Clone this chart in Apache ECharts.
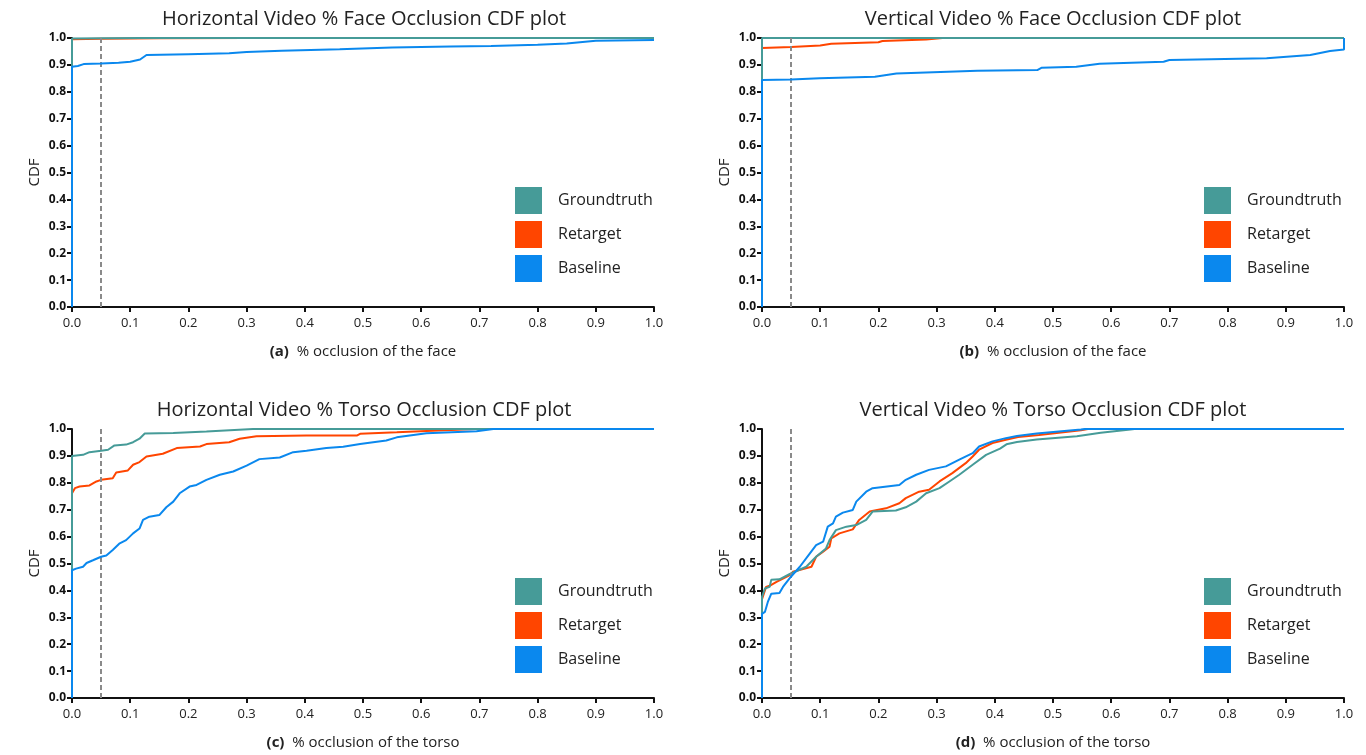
<!DOCTYPE html>
<html>
<head>
<meta charset="utf-8">
<script src="https://cdn.jsdelivr.net/npm/echarts@6/dist/echarts.min.js"></script>
<style>html,body{margin:0;padding:0;background:#fff;}#c{width:1366px;height:755px;}</style>
</head>
<body>
<div id="c"></div>
<script>
// ---- data ----
const seriesNames = ['Groundtruth', 'Retarget', 'Baseline'];
const axisTicks = [0, 0.1, 0.2, 0.3, 0.4, 0.5, 0.6, 0.7, 0.8, 0.9, 1.0];
const thresholdX = 0.05;
const titles = ['Horizontal Video % Face Occlusion CDF plot', 'Vertical Video % Face Occlusion CDF plot',
                'Horizontal Video % Torso Occlusion CDF plot', 'Vertical Video % Torso Occlusion CDF plot'];
const panelTags = ['(a)', '(b)', '(c)', '(d)'];
const xNames = ['% occlusion of the face', '% occlusion of the face', '% occlusion of the torso', '% occlusion of the torso'];

// (a) Horizontal face
const hFaceGT = [[0,0],[0,0.998],[0.05,0.999],[0.12,1.0],[1,1]];
const hFaceRT = [[0,0],[0,0.995],[0.05,0.997],[0.15,0.999],[0.3,1.0],[1,1]];
const hFaceBL = [[0,0],[0,0.893],[0.01,0.896],[0.02,0.903],[0.05,0.905],[0.08,0.908],[0.1,0.912],[0.117,0.92],[0.128,0.937],[0.2,0.94],[0.27,0.943],[0.3,0.948],[0.36,0.953],[0.46,0.958],[0.55,0.965],[0.65,0.968],[0.72,0.97],[0.8,0.975],[0.85,0.98],[0.9,0.99],[1.0,0.993]];
// (b) Vertical face
const vFaceGT = [[0,0],[0,1.0],[1,1]];
const vFaceRT = [[0,0],[0,0.963],[0.05,0.967],[0.1,0.972],[0.119,0.979],[0.2,0.984],[0.207,0.989],[0.282,0.994],[0.31,1.0],[1,1]];
const vFaceBL = [[0,0],[0,0.844],[0.05,0.846],[0.099,0.85],[0.194,0.856],[0.231,0.868],[0.37,0.878],[0.473,0.881],[0.48,0.889],[0.54,0.893],[0.58,0.904],[0.69,0.912],[0.7,0.918],[0.867,0.925],[0.942,0.937],[0.976,0.952],[1.0,0.957],[1.0,1.0]];
// (c) Horizontal torso
const hTorsoGT = [[0,0],[0,0.9],[0.019,0.904],[0.03,0.914],[0.05,0.919],[0.062,0.923],[0.073,0.939],[0.093,0.942],[0.105,0.951],[0.116,0.964],[0.125,0.983],[0.174,0.985],[0.231,0.991],[0.311,1.0],[1,1]];
const hTorsoRT = [[0,0],[0,0.761],[0.005,0.78],[0.013,0.786],[0.03,0.79],[0.042,0.805],[0.05,0.811],[0.07,0.817],[0.076,0.838],[0.096,0.846],[0.105,0.867],[0.116,0.877],[0.128,0.898],[0.156,0.908],[0.18,0.929],[0.22,0.935],[0.231,0.944],[0.27,0.951],[0.288,0.964],[0.317,0.973],[0.403,0.976],[0.49,0.976],[0.495,0.982],[0.558,0.988],[0.609,0.993],[0.695,1.0],[1,1]];
const hTorsoBL = [[0,0],[0,0.475],[0.007,0.481],[0.019,0.488],[0.025,0.502],[0.036,0.512],[0.05,0.525],[0.059,0.53],[0.07,0.55],[0.082,0.575],[0.093,0.587],[0.105,0.612],[0.116,0.63],[0.122,0.662],[0.133,0.674],[0.15,0.68],[0.162,0.709],[0.174,0.73],[0.185,0.761],[0.202,0.786],[0.214,0.792],[0.231,0.811],[0.254,0.83],[0.277,0.842],[0.3,0.864],[0.322,0.888],[0.357,0.894],[0.38,0.914],[0.403,0.919],[0.437,0.929],[0.466,0.934],[0.495,0.944],[0.54,0.957],[0.558,0.969],[0.609,0.984],[0.695,0.992],[0.724,1.0],[1,1]];
// (d) Vertical torso
const vTorsoGT = [[0,0],[0,0.376],[0.005,0.407],[0.013,0.413],[0.016,0.44],[0.03,0.441],[0.047,0.46],[0.076,0.488],[0.093,0.525],[0.11,0.556],[0.116,0.587],[0.127,0.624],[0.145,0.637],[0.162,0.643],[0.179,0.662],[0.19,0.693],[0.23,0.697],[0.247,0.709],[0.265,0.73],[0.282,0.761],[0.305,0.78],[0.322,0.805],[0.339,0.83],[0.362,0.867],[0.385,0.904],[0.409,0.927],[0.42,0.943],[0.438,0.952],[0.472,0.961],[0.541,0.973],[0.582,0.986],[0.633,0.998],[0.64,1.0],[1,1]];
const vTorsoRT = [[0,0],[0,0.367],[0.007,0.413],[0.013,0.417],[0.025,0.432],[0.047,0.456],[0.053,0.469],[0.085,0.488],[0.093,0.525],[0.105,0.544],[0.116,0.562],[0.119,0.593],[0.133,0.612],[0.156,0.627],[0.167,0.662],[0.185,0.693],[0.213,0.705],[0.236,0.724],[0.247,0.743],[0.27,0.767],[0.287,0.774],[0.305,0.805],[0.327,0.836],[0.35,0.873],[0.362,0.898],[0.373,0.923],[0.396,0.948],[0.419,0.96],[0.44,0.97],[0.476,0.978],[0.548,0.995],[0.56,1.0],[1,1]];
const vTorsoBL = [[0,0],[0,0.313],[0.005,0.32],[0.01,0.357],[0.016,0.388],[0.03,0.39],[0.036,0.413],[0.047,0.444],[0.065,0.488],[0.082,0.537],[0.093,0.568],[0.105,0.581],[0.113,0.637],[0.122,0.649],[0.127,0.674],[0.139,0.689],[0.156,0.699],[0.162,0.73],[0.179,0.767],[0.19,0.78],[0.236,0.792],[0.247,0.811],[0.265,0.83],[0.287,0.848],[0.316,0.861],[0.339,0.886],[0.362,0.91],[0.373,0.935],[0.396,0.954],[0.419,0.966],[0.438,0.974],[0.472,0.983],[0.548,0.998],[0.555,1.0],[1,1]];

const panels = [
  {gt: hFaceGT, rt: hFaceRT, bl: hFaceBL},
  {gt: vFaceGT, rt: vFaceRT, bl: vFaceBL},
  {gt: hTorsoGT, rt: hTorsoRT, bl: hTorsoBL},
  {gt: vTorsoGT, rt: vTorsoRT, bl: vTorsoBL}
];

// ---- styling / layout ----
const FONT = '"Open Sans", Lato, sans-serif';
const colors = {Groundtruth: '#469b98', Retarget: '#ff4500', Baseline: '#0a88ee'};
const gridPos = [
  {left: 72, right: 712, top: 38, bottom: 448},
  {left: 762, right: 22, top: 38, bottom: 448},
  {left: 72, right: 712, top: 429, bottom: 57},
  {left: 762, right: 22, top: 429, bottom: 57}
];
const titlePos = [{x: 364, y: 9}, {x: 1053, y: 9}, {x: 364, y: 400}, {x: 1053, y: 400}];
const legendPos = [{x: 515, y: 187}, {x: 1204, y: 187}, {x: 515, y: 578}, {x: 1204, y: 578}];

const grid = [], xAxis = [], yAxis = [], title = [], legend = [], series = [];
const fmt = v => v.toFixed(1);

gridPos.forEach((g, i) => {
  grid.push(Object.assign({containLabel: false}, g));
  title.push({
    text: titles[i], left: titlePos[i].x, top: titlePos[i].y, textAlign: 'center', padding: 0,
    textStyle: {fontFamily: FONT, fontSize: 20, fontWeight: 'normal', color: '#222'}
  });
  xAxis.push({
    type: 'value', gridIndex: i, min: 0, max: 1, interval: 0.1,
    name: '{b|' + panelTags[i] + '}  ' + xNames[i],
    nameLocation: 'middle', nameGap: 37,
    nameTextStyle: {fontFamily: FONT, fontSize: 15, color: '#222', rich: {b: {fontFamily: FONT, fontSize: 15, fontWeight: 'bold', color: '#222'}}},
    axisLine: {show: true, onZero: false, lineStyle: {color: '#111', width: 2}},
    axisTick: {show: true, length: 5, lineStyle: {color: '#111', width: 2}},
    axisLabel: {fontFamily: FONT, fontSize: 13, color: '#222', margin: 10, formatter: fmt},
    splitLine: {show: false}
  });
  yAxis.push({
    type: 'value', gridIndex: i, min: 0, max: 1, interval: 0.1,
    name: 'CDF', nameLocation: 'middle', nameGap: 30, nameRotate: 90,
    nameTextStyle: {fontFamily: FONT, fontSize: 15, color: '#222'},
    axisLine: {show: true, onZero: false, lineStyle: {color: '#111', width: 2}},
    axisTick: {show: true, length: 5, lineStyle: {color: '#111', width: 2}},
    axisLabel: {fontFamily: FONT, fontSize: 12, fontWeight: 'bold', color: '#111', margin: 6, formatter: fmt},
    splitLine: {show: false}
  });
  legend.push({
    data: seriesNames, orient: 'vertical', left: legendPos[i].x, top: legendPos[i].y, padding: 0,
    icon: 'rect', itemWidth: 27, itemHeight: 27, itemGap: 7, selectedMode: false,
    textStyle: {fontFamily: FONT, fontSize: 16, color: '#222', padding: [0, 0, 0, 11]}
  });
  const p = panels[i];
  const order = [['Retarget', p.rt], ['Groundtruth', p.gt], ['Baseline', p.bl]];
  order.forEach(([name, data], k) => {
    const s = {
      name, type: 'line', xAxisIndex: i, yAxisIndex: i, data,
      showSymbol: false, symbol: 'none', color: colors[name],
      lineStyle: {width: 2, color: colors[name]}, animation: false, z: 3 + k
    };
    if (k === 0) {
      s.markLine = {
        silent: true, symbol: 'none', animation: false,
        label: {show: false},
        lineStyle: {type: [5, 3], color: '#8a8a8a', width: 2},
        data: [{xAxis: thresholdX}]
      };
    }
    series.push(s);
  });
});

const chart = echarts.init(document.getElementById('c'), null, {renderer: 'canvas'});
chart.setOption({
  backgroundColor: '#fff', animation: false,
  title, legend, grid, xAxis, yAxis, series
});
</script>
</body>
</html>
